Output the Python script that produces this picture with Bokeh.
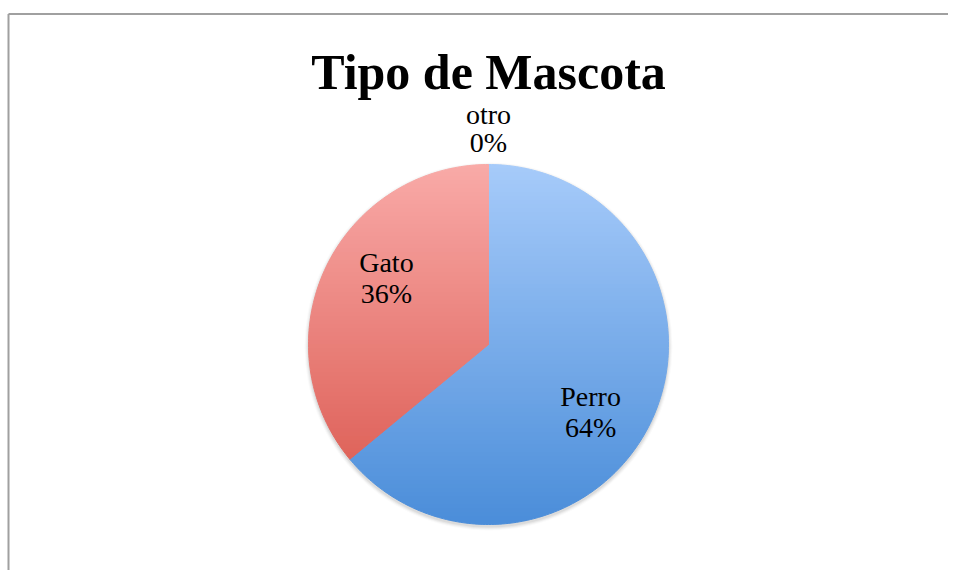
import math
from bokeh.plotting import figure
from bokeh.models import Range1d
from bokeh.core.properties import value
from bokeh.embed import file_html
from bokeh.resources import INLINE

# ---- data ----
title_text = "Tipo de Mascota"
categories = ["Perro", "Gato", "otro"]
values = [64, 36, 0]
top_colors = ["#a7cbfa", "#f9aaa8"]
bottom_colors = ["#4a8dd9", "#d9544a"]

W, H = 948, 570
p = figure(width=W, height=H, output_backend="svg", toolbar_location=None,
           x_range=Range1d(0, W), y_range=Range1d(0, H),
           x_axis_location=None, y_axis_location=None,
           min_border=0)
p.grid.visible = False
p.outline_line_color = None
p.background_fill_color = "white"
p.border_fill_color = "white"

# frame lines (left and top)
p.segment(x0=[8, 8], y0=[0, H - 13.5], x1=[8, W], y1=[H - 13.5, H - 13.5],
          line_color="#a0a0a0", line_width=2)

cx, cy, R = 488, 226, 180

# soft shadow
for i, a in enumerate([0.05, 0.04, 0.03, 0.02]):
    p.circle(x=[cx], y=[cy - 2], radius=R + 1 + i, fill_color="#000000",
             fill_alpha=a, line_color=None)


def hex2rgb(h):
    h = h.lstrip("#")
    return tuple(int(h[i:i + 2], 16) for i in (0, 2, 4))


def lerp(c0, c1, t):
    a, b = hex2rgb(c0), hex2rgb(c1)
    return "#%02x%02x%02x" % tuple(int(round(a[k] + (b[k] - a[k]) * t)) for k in range(3))


def clip(pts, y0, y1):
    def clip_half(poly, keep, yb):
        out = []
        n = len(poly)
        for i in range(n):
            P = poly[i]
            Q = poly[(i + 1) % n]
            pin, qin = keep(P[1]), keep(Q[1])
            if pin:
                out.append(P)
            if pin != qin:
                t = (yb - P[1]) / (Q[1] - P[1])
                out.append((P[0] + t * (Q[0] - P[0]), yb))
        return out
    r = clip_half(pts, lambda y: y >= y0, y0)
    if not r:
        return r
    return clip_half(r, lambda y: y <= y1, y1)


total = sum(values)
start = 0.0
N = 90
xs, ys, cols = [], [], []
label_info = []
for i, (cat, v) in enumerate(zip(categories, values)):
    frac = v / total
    end = start + frac * 2 * math.pi
    mid = (start + end) / 2
    label_info.append((cat, v, mid))
    if v > 0:
        steps = max(4, int(frac * 400))
        poly = [(cx, cy)]
        for k in range(steps + 1):
            th = start + (end - start) * k / steps
            poly.append((cx + R * math.sin(th), cy + R * math.cos(th)))
        for s in range(N):
            y1 = cy + R - s * (2 * R / N)
            y0 = y1 - 2 * R / N
            piece = clip(poly, y0, y1)
            if len(piece) < 3:
                continue
            t = (s + 0.5) / N
            c = lerp(top_colors[i % 2], bottom_colors[i % 2], t)
            xs.append([q[0] for q in piece])
            ys.append([q[1] for q in piece])
            cols.append(c)
    start = end

p.patches(xs=xs, ys=ys, fill_color=cols, line_color=cols, line_width=1)

# labels
shift = math.radians(8)
for cat, v, mid in label_info:
    pct = "%d%%" % round(v / total * 100)
    if v > 0:
        r = 122
        th = mid + shift
        gap = 31
    else:
        r = 215
        th = mid
        gap = 28
    lx = cx + r * math.sin(th)
    ly = cy + r * math.cos(th)
    p.text(x=[lx], y=[ly + 15], text=[cat], text_align="center",
           text_baseline="alphabetic", text_font=value("Liberation Serif"),
           text_font_size="28px", text_color="#000000")
    p.text(x=[lx], y=[ly + 15 - gap], text=[pct], text_align="center",
           text_baseline="alphabetic", text_font=value("Liberation Serif"),
           text_font_size="28px", text_color="#000000")

# title
p.text(x=[cx], y=[H - 71], text=[title_text], text_align="center",
       text_baseline="alphabetic", text_font=value("Liberation Serif"),
       text_font_size="50px", text_font_style="bold", text_color="#000000")

open("out.html", "w").write(file_html(p, INLINE))
